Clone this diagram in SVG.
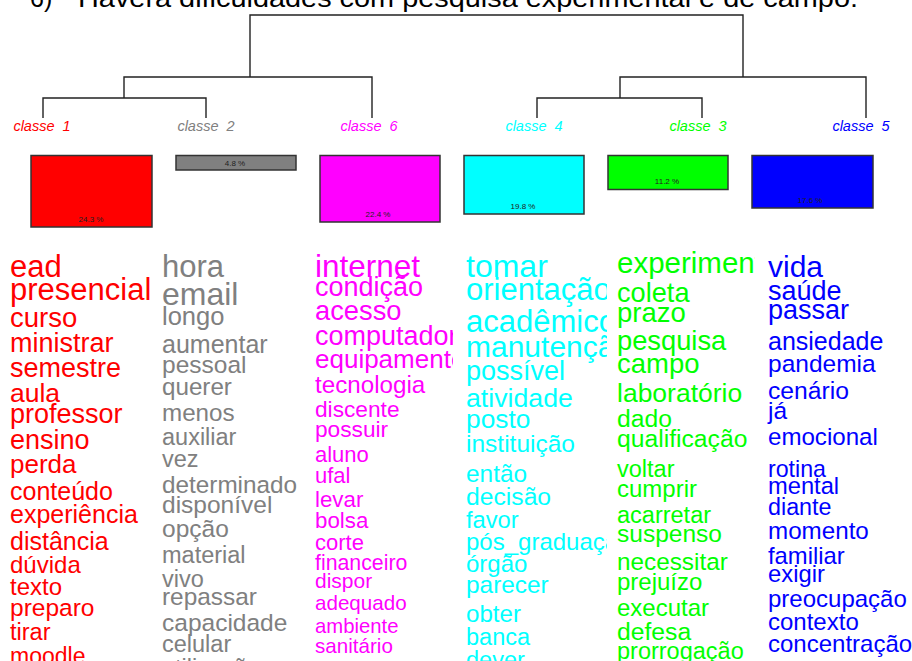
<svg xmlns="http://www.w3.org/2000/svg" width="912" height="661" viewBox="0 0 912 661">
<style>
  .t { font-family: "Liberation Sans", Arial, sans-serif; }
  .lbl { font-family: "Liberation Sans", Arial, sans-serif; font-style: italic; font-size: 14.5px; text-anchor: middle; }
  .pct { font-family: "Liberation Sans", Arial, sans-serif; font-size: 8px; fill: #222; text-anchor: middle; }
  .box { stroke: #333; stroke-width: 1.5; }
  .ln { stroke: #222; stroke-width: 1.4; fill: none; }
  .c1 { fill: #FF0000; } .c2 { fill: #808080; } .c6 { fill: #FF00FF; }
  .c4 { fill: #00FFFF; } .c3 { fill: #00FF00; } .c5 { fill: #0000FF; }
</style>
<defs>
  <clipPath id="k1"><rect x="0" y="240" width="155" height="421"/></clipPath>
  <clipPath id="k2"><rect x="155" y="240" width="149" height="421"/></clipPath>
  <clipPath id="k6"><rect x="304" y="240" width="149" height="421"/></clipPath>
  <clipPath id="k4"><rect x="456" y="240" width="151" height="421"/></clipPath>
  <clipPath id="k3"><rect x="608" y="240" width="147" height="421"/></clipPath>
  <clipPath id="k5"><rect x="760" y="240" width="152" height="421"/></clipPath>
</defs>
<rect width="912" height="661" fill="#fff"/>
<text class="t" x="30" y="7" font-size="25" fill="#000">6)</text>
<text class="t" x="78" y="7" font-size="25" fill="#000" textLength="780" lengthAdjust="spacingAndGlyphs">Haverá dificuldades com pesquisa experimental e de campo.</text>

<g id="connectors">
  <path class="ln" d="M250 77 V15 H743 V77"/>
  <path class="ln" d="M124 98 V77 H372 V118"/>
  <path class="ln" d="M43 118 V98 H206 V118"/>
  <path class="ln" d="M620 98 V77 H866 V118"/>
  <path class="ln" d="M537 118 V98 H702 V118"/>
</g>

<g id="classe1">
  <text class="lbl c1" x="42" y="131">classe&#160;&#160;1</text>
  <rect class="box" x="31" y="155.5" width="121" height="71.5" fill="#FF0000"/>
  <text class="pct" x="91" y="222">24.3 %</text>
  <g class="t c1" clip-path="url(#k1)">
    <text x="10" y="277" font-size="31">ead</text>
    <text x="10" y="300" font-size="31">presencial</text>
    <text x="10" y="326.5" font-size="27.5">curso</text>
    <text x="10" y="352" font-size="27">ministrar</text>
    <text x="10" y="376.5" font-size="27">semestre</text>
    <text x="10" y="401.5" font-size="26.5">aula</text>
    <text x="10" y="423" font-size="27">professor</text>
    <text x="10" y="449" font-size="27">ensino</text>
    <text x="10" y="473" font-size="26">perda</text>
    <text x="10" y="500" font-size="25">conteúdo</text>
    <text x="10" y="522.5" font-size="25">experiência</text>
    <text x="10" y="550" font-size="25">distância</text>
    <text x="10" y="573" font-size="24">dúvida</text>
    <text x="10" y="595" font-size="24">texto</text>
    <text x="10" y="615.5" font-size="24.5">preparo</text>
    <text x="10" y="640" font-size="23.5">tirar</text>
    <text x="10" y="664" font-size="23">moodle</text>
  </g>
</g>

<g id="classe2">
  <text class="lbl c2" x="206" y="131">classe&#160;&#160;2</text>
  <rect class="box" x="176" y="155.5" width="120" height="14.5" fill="#808080"/>
  <text class="pct" x="235" y="166">4.8 %</text>
  <g class="t c2" clip-path="url(#k2)">
    <text x="162" y="277" font-size="31">hora</text>
    <text x="162" y="305" font-size="32">email</text>
    <text x="162" y="325" font-size="25.5">longo</text>
    <text x="162" y="353" font-size="25">aumentar</text>
    <text x="162" y="373" font-size="24.5">pessoal</text>
    <text x="162" y="395" font-size="24.2">querer</text>
    <text x="162" y="420.5" font-size="24.2">menos</text>
    <text x="162" y="445" font-size="23.5">auxiliar</text>
    <text x="162" y="466.5" font-size="23.5">vez</text>
    <text x="162" y="492.5" font-size="24.3">determinado</text>
    <text x="162" y="513" font-size="24.5">disponível</text>
    <text x="162" y="537" font-size="24.5">opção</text>
    <text x="162" y="563" font-size="23.5">material</text>
    <text x="162" y="586.5" font-size="23.5">vivo</text>
    <text x="162" y="605" font-size="24.4">repassar</text>
    <text x="162" y="630.5" font-size="24.5">capacidade</text>
    <text x="162" y="651.5" font-size="23.5">celular</text>
    <text x="162" y="676" font-size="23.5">utilização</text>
  </g>
</g>

<g id="classe6">
  <text class="lbl c6" x="369" y="131">classe&#160;&#160;6</text>
  <rect class="box" x="320" y="155.5" width="120" height="66.5" fill="#FF00FF"/>
  <text class="pct" x="378" y="217">22.4 %</text>
  <g class="t c6" clip-path="url(#k6)">
    <text x="315" y="277" font-size="31.5">internet</text>
    <text x="315" y="295.5" font-size="27">condição</text>
    <text x="315" y="320" font-size="27.3">acesso</text>
    <text x="315" y="345" font-size="27">computador</text>
    <text x="315" y="368" font-size="26">equipamento</text>
    <text x="315" y="393" font-size="24.2">tecnologia</text>
    <text x="315" y="416.5" font-size="22.7">discente</text>
    <text x="315" y="436.5" font-size="22.7">possuir</text>
    <text x="315" y="461.5" font-size="22">aluno</text>
    <text x="315" y="483" font-size="22">ufal</text>
    <text x="315" y="506.5" font-size="22.3">levar</text>
    <text x="315" y="528" font-size="22.3">bolsa</text>
    <text x="315" y="550" font-size="22">corte</text>
    <text x="315" y="570" font-size="21.3">financeiro</text>
    <text x="315" y="588" font-size="21">dispor</text>
    <text x="315" y="610" font-size="20.6">adequado</text>
    <text x="315" y="633" font-size="20.3">ambiente</text>
    <text x="315" y="653" font-size="20.6">sanitário</text>
  </g>
</g>

<g id="classe4">
  <text class="lbl c4" x="534" y="131">classe&#160;&#160;4</text>
  <rect class="box" x="464" y="155.5" width="120" height="58.5" fill="#00FFFF"/>
  <text class="pct" x="523" y="209">19.8 %</text>
  <g class="t c4" clip-path="url(#k4)">
    <text x="466" y="277" font-size="32">tomar</text>
    <text x="466" y="300" font-size="31">orientação</text>
    <text x="466" y="332" font-size="31">acadêmico</text>
    <text x="466" y="357" font-size="30">manutenção</text>
    <text x="466" y="380" font-size="27">possível</text>
    <text x="466" y="406.5" font-size="26.7">atividade</text>
    <text x="466" y="428" font-size="26.3">posto</text>
    <text x="466" y="452" font-size="24.5">instituição</text>
    <text x="466" y="481.5" font-size="24.4">então</text>
    <text x="466" y="505" font-size="24.7">decisão</text>
    <text x="466" y="528" font-size="23.7">favor</text>
    <text x="466" y="550" font-size="24">pós_graduação</text>
    <text x="466" y="571.5" font-size="24">órgão</text>
    <text x="466" y="593" font-size="24.4">parecer</text>
    <text x="466" y="621.5" font-size="24.1">obter</text>
    <text x="466" y="645" font-size="23.5">banca</text>
    <text x="466" y="668" font-size="23.5">dever</text>
  </g>
</g>

<g id="classe3">
  <text class="lbl c3" x="698" y="131">classe&#160;&#160;3</text>
  <rect class="box" x="608" y="155.5" width="120" height="34" fill="#00FF00"/>
  <text class="pct" x="667" y="184">11.2 %</text>
  <g class="t c3" clip-path="url(#k3)">
    <text x="617" y="273" font-size="29.5">experimental</text>
    <text x="617" y="301.5" font-size="27.2">coleta</text>
    <text x="617" y="321.5" font-size="27.5">prazo</text>
    <text x="617" y="350" font-size="27.3">pesquisa</text>
    <text x="617" y="373" font-size="27.5">campo</text>
    <text x="617" y="401.5" font-size="26.5">laboratório</text>
    <text x="617" y="426.5" font-size="24.7">dado</text>
    <text x="617" y="446.5" font-size="24.7">qualificação</text>
    <text x="617" y="476.5" font-size="23.5">voltar</text>
    <text x="617" y="496.5" font-size="24">cumprir</text>
    <text x="617" y="522.5" font-size="23.5">acarretar</text>
    <text x="617" y="541.5" font-size="24.5">suspenso</text>
    <text x="617" y="570" font-size="24.3">necessitar</text>
    <text x="617" y="590" font-size="24">prejuízo</text>
    <text x="617" y="615.5" font-size="24">executar</text>
    <text x="617" y="640" font-size="24.7">defesa</text>
    <text x="617" y="659" font-size="23.5">prorrogação</text>
  </g>
</g>

<g id="classe5">
  <text class="lbl c5" x="861" y="131">classe&#160;&#160;5</text>
  <rect class="box" x="752" y="155.5" width="121" height="52.5" fill="#0000FF"/>
  <text class="pct" x="810" y="203">17.6 %</text>
  <g class="t c5" clip-path="url(#k5)">
    <text x="768" y="276.5" font-size="30">vida</text>
    <text x="768" y="300" font-size="27">saúde</text>
    <text x="768" y="318.5" font-size="27">passar</text>
    <text x="768" y="350" font-size="25">ansiedade</text>
    <text x="768" y="371.5" font-size="24.5">pandemia</text>
    <text x="768" y="398.5" font-size="24.7">cenário</text>
    <text x="768" y="418.5" font-size="24.5">já</text>
    <text x="768" y="445" font-size="24.1">emocional</text>
    <text x="768" y="476.5" font-size="23.2">rotina</text>
    <text x="768" y="493.5" font-size="23.7">mental</text>
    <text x="768" y="515" font-size="23.3">diante</text>
    <text x="768" y="538.5" font-size="24.2">momento</text>
    <text x="768" y="563.5" font-size="23.8">familiar</text>
    <text x="768" y="581.5" font-size="23.8">exigir</text>
    <text x="768" y="606.5" font-size="24">preocupação</text>
    <text x="768" y="630" font-size="24">contexto</text>
    <text x="768" y="651.5" font-size="24">concentração</text>
  </g>
</g>
</svg>
